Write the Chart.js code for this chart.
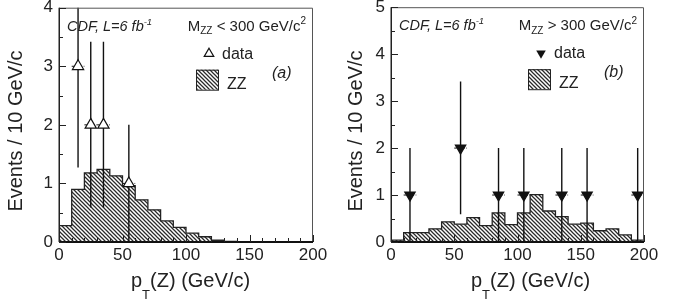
<!DOCTYPE html>
<html>
<head>
<meta charset="utf-8">
<script src="https://cdn.jsdelivr.net/npm/chart.js@4.4.1/dist/chart.umd.min.js"></script>
<style>
  body { margin: 0; background: #fff; width: 678px; height: 305px; overflow: hidden; }
  .panel { position: absolute; top: 0; height: 305px; }
</style>
</head>
<body>
<div class="panel" style="left:0;width:340px"><canvas id="panelA" width="340" height="305"></canvas></div>
<div class="panel" style="left:340px;width:338px"><canvas id="panelB" width="338" height="305"></canvas></div>
<script>
// bin edges of the 10 GeV/c histograms
const binEdges = [0, 10, 20, 30, 40, 50, 60, 70, 80, 90, 100, 110, 120, 130, 140, 150, 160, 170, 180, 190, 200];

// ZZ expectation per bin
const zzLowMass = [0.28, 0.9, 1.18, 1.24, 1.13, 0.96, 0.72, 0.55, 0.36, 0.25, 0.15, 0.09, 0.03, 0.01, 0, 0, 0, 0, 0, 0];
const zzHighMass = [0.04, 0.2, 0.2, 0.28, 0.43, 0.38, 0.52, 0.35, 0.62, 0.37, 0.62, 1.01, 0.66, 0.54, 0.38, 0.4, 0.24, 0.28, 0.15, 0.04];

// observed events
const dataLowX = [15, 25, 35, 55];
const dataLowY = [3, 2, 2, 1];
const dataLowErrLo = [1.27, 0.59, 0.59, 0];
const dataLowErrHi = [4.73, 3.42, 3.42, 2];

const dataHighX = [15, 55, 85, 105, 135, 155, 195];
const dataHighY = [1, 2, 1, 1, 1, 1, 1];
const dataHighErrLo = [0, 0.59, 0, 0, 0, 0, 0];
const dataHighErrHi = [2, 3.42, 2, 2, 2, 2, 2];

const xTicks = [0, 50, 100, 150, 200];
const yTicksLow = [0, 1, 2, 3, 4];
const yTicksHigh = [0, 1, 2, 3, 4, 5];

const FONT = '"Liberation Sans", Arial, Helvetica, sans-serif';
const INK = '#222';

function hatch(ctx) {
  const c = document.createElement('canvas');
  c.width = 4; c.height = 4;
  const g = c.getContext('2d');
  g.strokeStyle = '#2a2a2a';
  g.lineWidth = 1.25;
  g.beginPath();
  g.moveTo(0, 0); g.lineTo(4, 4);
  g.moveTo(-1, 3); g.lineTo(1, 5);
  g.moveTo(3, -1); g.lineTo(5, 1);
  g.stroke();
  return ctx.createPattern(c, 'repeat');
}

// one point per edge; with stepped 'before' the value at edge i runs to edge i+1
function histPoints(vals) {
  return binEdges.map((x, i) => ({ x, y: vals[Math.min(i, vals.length - 1)] }));
}

function drawRich(ctx, x, y, parts) {
  let cx = x;
  parts.forEach(p => {
    ctx.font = `${p.style || ''} ${p.size}px ${FONT}`;
    ctx.fillText(p.t, cx, y + (p.dy || 0));
    cx += ctx.measureText(p.t).width;
  });
  return cx - x;
}

function richWidth(ctx, parts) {
  let w = 0;
  parts.forEach(p => {
    ctx.font = `${p.style || ''} ${p.size}px ${FONT}`;
    w += ctx.measureText(p.t).width;
  });
  return w;
}

function triangle(ctx, x, y, r, down) {
  const s = down ? -1 : 1;
  ctx.beginPath();
  ctx.moveTo(x, y - s * r);
  ctx.lineTo(x + r * 0.866, y + s * r * 0.5);
  ctx.lineTo(x - r * 0.866, y + s * r * 0.5);
  ctx.closePath();
}

const panels = {
  panelA: {
    hist: zzLowMass, x: dataLowX, y: dataLowY, lo: dataLowErrLo, hi: dataLowErrHi,
    yMax: 4, yTicks: yTicksLow, yWidth: 59, padRight: 27, padTop: 5,
    down: false, sign: '<', tag: '(a)'
  },
  panelB: {
    hist: zzHighMass, x: dataHighX, y: dataHighY, lo: dataHighErrLo, hi: dataHighErrHi,
    yMax: 5, yTicks: yTicksHigh, yWidth: 51, padRight: 34, padTop: 6,
    down: true, sign: '>', tag: '(b)'
  }
};

const decor = {
  id: 'decor',
  beforeDatasetDraw(chart, args) {
    if (args.index !== 1) return;
    const cfg = panels[chart.canvas.id];
    const { ctx, chartArea: a, scales: { x, y } } = chart;
    ctx.save();
    ctx.beginPath();
    ctx.rect(a.left, a.top, a.right - a.left, a.bottom - a.top);
    ctx.clip();
    ctx.strokeStyle = '#111';
    cfg.x.forEach((v, i) => {
      const px = x.getPixelForValue(v);
      ctx.lineWidth = 1.4;
      ctx.setLineDash([]);
      ctx.beginPath();
      ctx.moveTo(px, y.getPixelForValue(cfg.lo[i]));
      ctx.lineTo(px, y.getPixelForValue(cfg.hi[i]));
      ctx.stroke();
      ctx.lineWidth = 1;
      ctx.setLineDash([2.5, 1.5]);
      ctx.beginPath();
      ctx.moveTo(x.getPixelForValue(v - 5), y.getPixelForValue(cfg.y[i]));
      ctx.lineTo(x.getPixelForValue(v + 5), y.getPixelForValue(cfg.y[i]));
      ctx.stroke();
    });
    ctx.restore();
  },
  afterDatasetsDraw(chart) {
    const cfg = panels[chart.canvas.id];
    const { ctx, chartArea: a, scales: { x, y } } = chart;
    ctx.save();
    // frame
    ctx.strokeStyle = '#555';
    ctx.lineWidth = 1;
    ctx.beginPath();
    ctx.moveTo(a.left, a.top + 0.5); ctx.lineTo(a.right - 0.5, a.top + 0.5); ctx.lineTo(a.right - 0.5, a.bottom);
    ctx.stroke();
    ctx.strokeStyle = INK;
    ctx.lineWidth = 1.5;
    ctx.beginPath();
    ctx.moveTo(a.left + 0.25, a.top); ctx.lineTo(a.left + 0.25, a.bottom);
    ctx.stroke();
    ctx.strokeStyle = '#111';
    ctx.lineWidth = 2;
    ctx.beginPath();
    ctx.moveTo(a.left, a.bottom); ctx.lineTo(a.right, a.bottom);
    ctx.stroke();
    // inward ticks
    ctx.strokeStyle = INK;
    ctx.lineWidth = 1;
    ctx.beginPath();
    for (let v = 0; v <= 200; v += 10) {
      const px = Math.round(x.getPixelForValue(v)) + 0.5;
      const len = v % 50 === 0 ? 7 : 4;
      ctx.moveTo(px, a.bottom); ctx.lineTo(px, a.bottom - len);
    }
    for (let k = 0; k <= cfg.yMax * 2; k++) {
      const py = Math.round(y.getPixelForValue(k / 2)) + 0.5;
      const len = k % 2 === 0 ? 7 : 4;
      ctx.moveTo(a.left, py); ctx.lineTo(a.left + len, py);
    }
    ctx.stroke();
    ctx.restore();
  },
  afterDraw(chart) {
    const cfg = panels[chart.canvas.id];
    const { ctx, chartArea: a } = chart;
    ctx.save();
    ctx.fillStyle = INK;
    ctx.textBaseline = 'alphabetic';
    ctx.textAlign = 'left';

    // axis titles
    drawRich(ctx, 131, 287, [
      { t: 'p', size: 20 },
      { t: 'T', size: 13, dy: 12 },
      { t: '(Z) (GeV/c)', size: 20 }
    ]);
    ctx.save();
    ctx.translate(22, 131);
    ctx.rotate(-Math.PI / 2);
    ctx.font = `20px ${FONT}`;
    ctx.textAlign = 'center';
    ctx.fillText('Events / 10 GeV/c', 0, 0);
    ctx.restore();

    // labels in the plot
    drawRich(ctx, a.left + 8, a.top + 23, [
      { t: 'CDF, L=6 fb', size: 14.5, style: 'italic' },
      { t: '-1', size: 9.5, style: 'italic', dy: -6 }
    ]);
    const mParts = [
      { t: 'M', size: 15 },
      { t: 'ZZ', size: 10, dy: 3.5 },
      { t: ` ${cfg.sign} 300 GeV/c`, size: 15 },
      { t: '2', size: 10, dy: -6.5 }
    ];
    drawRich(ctx, a.right - 7 - richWidth(ctx, mParts), a.top + 23, mParts);

    // legend
    ctx.lineWidth = 1.2;
    ctx.strokeStyle = '#111';
    triangle(ctx, a.left + 150, a.top + 46, 5.5, cfg.down);
    if (cfg.down) { ctx.fillStyle = '#111'; ctx.fill(); }
    else { ctx.fillStyle = '#fff'; ctx.fill(); ctx.stroke(); }
    ctx.fillStyle = INK;
    ctx.font = `16px ${FONT}`;
    ctx.fillText('data', a.left + 163, a.top + 51);
    ctx.fillStyle = hatch(ctx);
    ctx.fillRect(a.left + 137, a.top + 62, 22, 20);
    ctx.lineWidth = 1;
    ctx.strokeStyle = '#222';
    ctx.strokeRect(a.left + 137.5, a.top + 62.5, 22, 20);
    ctx.fillStyle = INK;
    ctx.fillText('ZZ', a.left + 168, a.top + 81);
    ctx.font = `italic 16px ${FONT}`;
    ctx.fillText(cfg.tag, a.left + 213, a.top + 70);
    ctx.restore();
  }
};

function buildPanel(id) {
  const cfg = panels[id];
  const canvas = document.getElementById(id);
  const ctx = canvas.getContext('2d');
  return new Chart(canvas, {
    type: 'line',
    data: {
      datasets: [
        {
          data: histPoints(cfg.hist),
          stepped: 'before',
          fill: 'origin',
          backgroundColor: hatch(ctx),
          borderColor: '#222',
          borderWidth: 1.3,
          pointRadius: 0,
          order: 2
        },
        {
          data: cfg.x.map((v, i) => ({ x: v, y: cfg.y[i] })),
          showLine: false,
          pointStyle: 'triangle',
          pointRotation: cfg.down ? 180 : 0,
          pointRadius: cfg.down ? 6 : 6.5,
          backgroundColor: cfg.down ? '#111' : '#fff',
          borderColor: '#111',
          borderWidth: 1.2,
          clip: false,
          order: 1
        }
      ]
    },
    options: {
      responsive: false,
      animation: false,
      devicePixelRatio: 1,
      layout: { padding: { left: 0, right: cfg.padRight, top: cfg.padTop, bottom: 0 } },
      plugins: { legend: { display: false }, tooltip: { enabled: false } },
      scales: {
        x: {
          type: 'linear', min: 0, max: 200,
          afterBuildTicks: s => { s.ticks = xTicks.map(v => ({ value: v })); },
          afterFit: s => { s.height = 63; s.paddingLeft = 0; s.paddingRight = 0; },
          grid: { display: false, drawTicks: false },
          border: { display: false },
          ticks: { color: INK, font: { size: 17, family: FONT }, padding: 3, maxRotation: 0 }
        },
        y: {
          type: 'linear', min: 0, max: cfg.yMax,
          afterBuildTicks: s => { s.ticks = cfg.yTicks.map(v => ({ value: v })); },
          afterFit: s => { s.width = cfg.yWidth; s.paddingTop = 0; s.paddingBottom = 0; },
          grid: { display: false, drawTicks: false },
          border: { display: false },
          ticks: { color: INK, font: { size: 17, family: FONT }, padding: 6 }
        }
      }
    },
    plugins: [decor]
  });
}

buildPanel('panelA');
buildPanel('panelB');
</script>
</body>
</html>
